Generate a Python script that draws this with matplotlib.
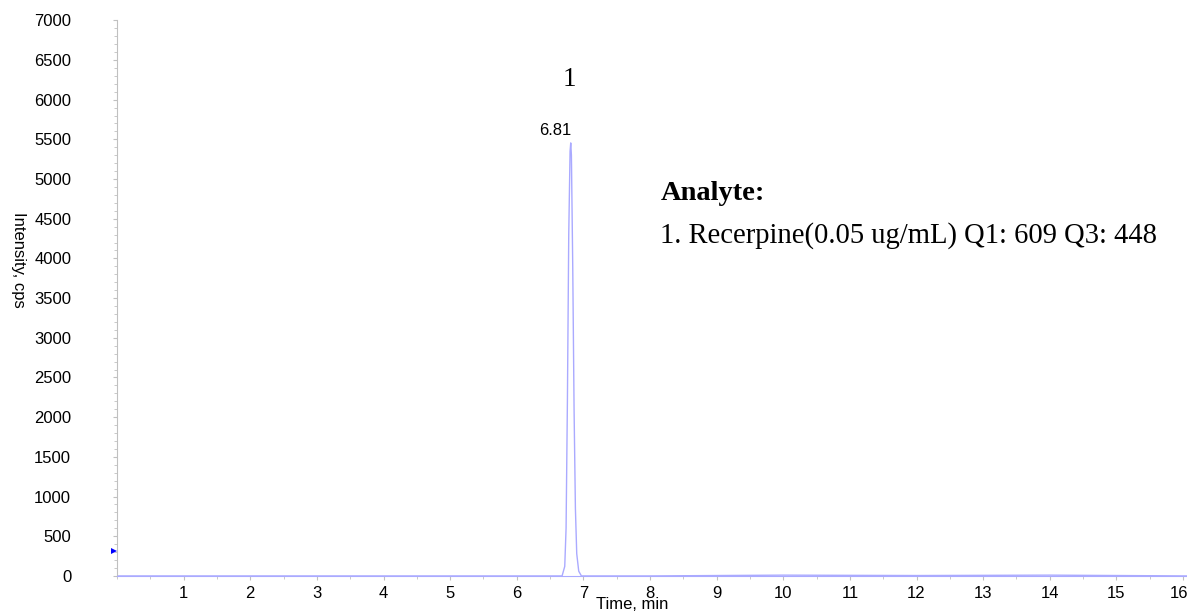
import numpy as np
import matplotlib.pyplot as plt
import matplotlib.transforms as mtransforms
from matplotlib.ticker import MultipleLocator

plt.rcParams['font.family'] = ['Liberation Sans', 'DejaVu Sans']

# chromatogram trace
time_min = [0.0, 1.0, 2.0, 3.0, 4.0, 5.0, 6.0, 6.5, 6.68, 6.72, 6.74, 6.76, 6.78,
            6.80, 6.81, 6.82, 6.84, 6.86, 6.88, 6.90, 6.93, 6.97, 7.2, 8.0, 10.0,
            12.0, 14.0, 16.06]
intensity = [0, 0, 0, 0, 0, 0, 0, 0, 0, 120, 600, 2200, 4300,
             5350, 5455, 5300, 3900, 2100, 850, 280, 60, 0, 0, 0, 10,
             5, 10, 0]

peak_rt = 6.81
peak_h = 5455
xticks = list(range(1, 17))
yticks = list(range(0, 7001, 500))

fig = plt.figure(figsize=(11.87, 6.14), dpi=100)
ax = fig.add_axes([0.0986, 0.062, 0.9014, 0.905])

ax.plot(time_min, intensity, color="#aaaaff", lw=1.0)
ax.plot([-0.04], [315], marker=">", color="blue", ms=5, clip_on=False, mew=0)

ax.set_xlim(0, 16.06)
ax.set_ylim(0, 7000)
ax.set_xticks(xticks)
ax.set_yticks(yticks)
ax.xaxis.set_minor_locator(MultipleLocator(0.5))
ax.yaxis.set_minor_locator(MultipleLocator(100))

for s in ["top", "right"]:
    ax.spines[s].set_visible(False)
ax.spines["left"].set_color("#c0c0c0")
ax.spines["bottom"].set_color("#aaaaff")

ax.tick_params(axis="y", which="major", length=3, color="#c0c0c0", pad=30, labelsize=12)
ax.tick_params(axis="y", which="minor", length=2, color="#c0c0c0")
ax.tick_params(axis="x", which="major", length=3, color="#c0c0c0", pad=4, labelsize=12)
ax.tick_params(axis="x", which="minor", length=2, color="#c0c0c0")

# last x label sits a bit left so it stays inside the picture
last = ax.get_xticklabels()[-1]
last.set_transform(last.get_transform() + mtransforms.ScaledTranslation(-4 / 100, 0, fig.dpi_scale_trans))

ax.set_xlabel("Time, min", fontsize=12, va="center")
ax.xaxis.set_label_coords((632 - 117) / 1070, -0.051)
ax.set_ylabel("Intensity, cps", fontsize=12, rotation=270, va="center")
ax.yaxis.set_label_coords(-0.092, 0.568)

ax.text(peak_rt + 0.01, peak_h + 60, "6.81", ha="right", va="bottom", fontsize=12)
ax.text(6.79, 6169, "1", ha="center", va="baseline", fontsize=19.5, family="Liberation Serif")
ax.text(8.155, 4734, "Analyte:", fontsize=20.5, fontweight="bold", family="Liberation Serif", va="baseline")
ax.text(8.155, 4192, "1. Recerpine(0.05 ug/mL) Q1: 609 Q3: 448", fontsize=20.6,
        family="Liberation Serif", va="baseline")

fig.savefig("out.png")
